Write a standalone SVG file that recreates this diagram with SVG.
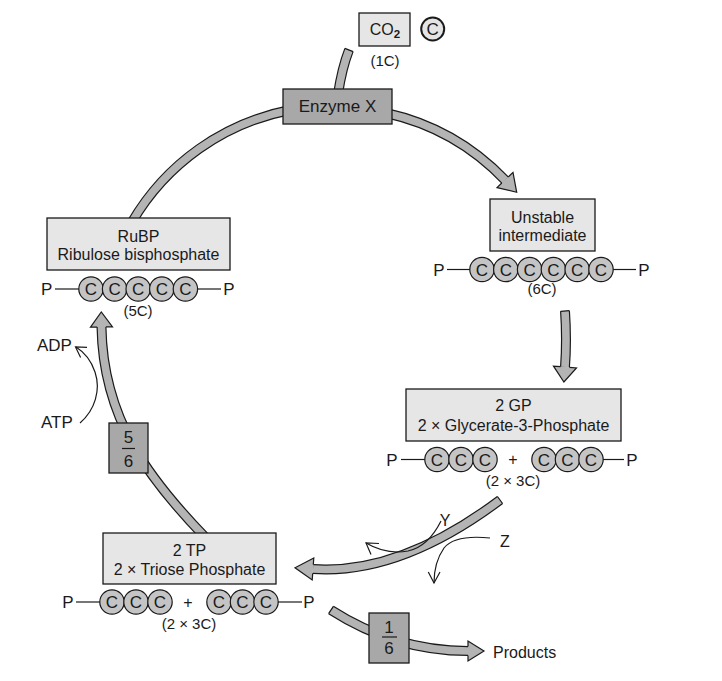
<svg xmlns="http://www.w3.org/2000/svg" width="722" height="681" viewBox="0 0 722 681">
<defs>
<style>
text{font-family:"Liberation Sans",Arial,sans-serif;fill:#1a1a1a}
.f16{font-size:16px}
.f17{font-size:17px}
.f15{font-size:15px}
.m{text-anchor:middle}
.bo{fill:none;stroke:#1a1a1a;stroke-width:10}
.bi{fill:none;stroke:#b4b4b4;stroke-width:7.6}
.hd{fill:#b4b4b4;stroke:#1a1a1a;stroke-width:1.2;stroke-linejoin:miter}
.cap{stroke:#1a1a1a;stroke-width:1.2}
.thin{fill:none;stroke:#1a1a1a;stroke-width:1.2}
.lbox{fill:#e6e6e6;stroke:#1a1a1a;stroke-width:1.3}
.dbox{fill:#a8a8a8;stroke:#1a1a1a;stroke-width:1.3}
.cc{fill:#c4c4c4;stroke:#1a1a1a;stroke-width:1.2}
.ln{stroke:#1a1a1a;stroke-width:1.2}
</style>
<g id="cC"><circle class="cc" r="12.2"/><text class="f17 m" y="6">C</text></g>
</defs>
<rect width="722" height="681" fill="#ffffff"/>
<g id="connectors">
  <path class="bo" d="M 349 50 Q 342 68 338 94"/>
  <path class="bi" d="M 349 50 Q 342 68 338 94"/>
  <line class="cap" x1="353.1" y1="51.6" x2="344.9" y2="48.4"/>
  <path class="bo" d="M 290 110 A 235 235 0 0 0 132 222"/>
  <path class="bi" d="M 290 110 A 235 235 0 0 0 132 222"/>
  <path class="bo" d="M 386 113 A 235 235 0 0 1 505 180"/>
  <path class="bi" d="M 386 113 A 235 235 0 0 1 505 180"/>
  <path class="hd" d="M 501.8 183 L 497 187.6 L 516.7 192.3 L 513 172.4 L 508.2 177"/>
  <path class="bo" d="M 565 311 Q 567 340 565 367"/>
  <path class="bi" d="M 565 311 Q 567 340 565 367"/>
  <line class="cap" x1="569.4" y1="310.7" x2="560.6" y2="311.3"/>
  <path class="hd" d="M 560.6 366.7 L 553.5 366.1 L 563.9 382 L 576.5 367.9 L 569.4 367.3"/>
  <path class="bo" d="M 500 500 Q 400 575 313 569"/>
  <path class="bi" d="M 500 500 Q 400 575 313 569"/>
  <line class="cap" x1="502.6" y1="503.5" x2="497.4" y2="496.5"/>
  <path class="hd" d="M 313.3 564.6 L 313.8 558 L 295 567.8 L 312.2 580 L 312.7 573.4"/>
  <path class="bo" d="M 331 610 Q 395 651 468 651"/>
  <path class="bi" d="M 331 610 Q 395 651 468 651"/>
  <line class="cap" x1="328.6" y1="613.7" x2="333.4" y2="606.3"/>
  <path class="hd" d="M 468 646.6 L 468 641 L 484 651 L 468 661 L 468 655.4"/>
  <path class="bo" d="M 205 537 C 150 480 103 420 101.5 327"/>
  <path class="bi" d="M 205 537 C 150 480 103 420 101.5 327"/>
  <path class="hd" d="M 97.1 327.1 L 90.5 327.2 L 101.3 312 L 112.5 326.8 L 105.9 326.9"/>
  <path class="thin" d="M 441 521 C 433 537 422 548 408 551 C 392 554 378 550 366 543"/>
  <polyline class="thin" points="379,543.5 366,543 371,554.5"/>
  <path class="thin" d="M 490 538 C 470 536 452 538 444 548 C 437 558 434 570 434 583"/>
  <polyline class="thin" points="428.3,572 434,583 440,572"/>
  <path class="thin" d="M 80 423 C 95 410 101 390 95 372 C 91 360 84 352 76 347"/>
  <polyline class="thin" points="87,347.4 75.5,347 80.6,357.6"/>
</g>
<g id="nodes">
  <g id="co2">
    <rect class="lbox" x="359" y="13" width="51" height="33"/>
    <text class="f16 m" x="385" y="35">CO<tspan font-size="11.5" font-weight="bold" dy="3">2</tspan></text>
    <text class="f15 m" x="385" y="66">(1C)</text>
  </g>
  <g id="carbon">
    <circle cx="432.7" cy="29" r="11.5" fill="#e4e4e4" stroke="#1a1a1a" stroke-width="2"/>
    <text class="f17 m" x="432.7" y="35">C</text>
  </g>
  <g id="enzyme">
    <rect class="dbox" x="283" y="89" width="109" height="35"/>
    <text class="f17 m" x="337.5" y="112">Enzyme X</text>
  </g>
  <g id="rubp">
    <rect class="lbox" x="47" y="218" width="183" height="52"/>
    <text class="f16 m" x="138.5" y="242">RuBP</text>
    <text class="f16 m" x="138.5" y="260">Ribulose bisphosphate</text>
    <text class="f17 m" x="46.7" y="295">P</text>
    <line class="ln" x1="55" y1="289" x2="79" y2="289"/>
    <line class="ln" x1="197" y1="289" x2="221" y2="289"/>
    <use href="#cC" x="91" y="289"/>
    <use href="#cC" x="114.6" y="289"/>
    <use href="#cC" x="138.2" y="289"/>
    <use href="#cC" x="161.8" y="289"/>
    <use href="#cC" x="185.4" y="289"/>
    <text class="f17 m" x="229" y="295">P</text>
    <text class="f15 m" x="138" y="316">(5C)</text>
  </g>
  <g id="unstable">
    <rect class="lbox" x="490" y="199" width="105" height="52"/>
    <text class="f16 m" x="542.5" y="223">Unstable</text>
    <text class="f16 m" x="542.5" y="241">intermediate</text>
    <text class="f17 m" x="439" y="275.5">P</text>
    <line class="ln" x1="447" y1="269.5" x2="470" y2="269.5"/>
    <line class="ln" x1="613" y1="269.5" x2="636" y2="269.5"/>
    <use href="#cC" x="482" y="269.5"/>
    <use href="#cC" x="505.8" y="269.5"/>
    <use href="#cC" x="529.6" y="269.5"/>
    <use href="#cC" x="553.4" y="269.5"/>
    <use href="#cC" x="577.2" y="269.5"/>
    <use href="#cC" x="601" y="269.5"/>
    <text class="f17 m" x="644" y="275.5">P</text>
    <text class="f15 m" x="542" y="294">(6C)</text>
  </g>
  <g id="gp">
    <rect class="lbox" x="406" y="389" width="215" height="52"/>
    <text class="f16 m" x="513.5" y="411">2 GP</text>
    <text class="f16 m" x="513.5" y="431">2 × Glycerate-3-Phosphate</text>
    <text class="f17 m" x="392" y="465.5">P</text>
    <line class="ln" x1="401" y1="459.5" x2="425" y2="459.5"/>
    <use href="#cC" x="437" y="459.5"/>
    <use href="#cC" x="461" y="459.5"/>
    <use href="#cC" x="485" y="459.5"/>
    <text class="f16 m" x="513" y="465">+</text>
    <use href="#cC" x="544" y="459.5"/>
    <use href="#cC" x="567.5" y="459.5"/>
    <use href="#cC" x="591" y="459.5"/>
    <line class="ln" x1="603" y1="459.5" x2="624" y2="459.5"/>
    <text class="f17 m" x="632" y="465.5">P</text>
    <text class="f15 m" x="513" y="486">(2 × 3C)</text>
  </g>
  <g id="tp">
    <rect class="lbox" x="103" y="533" width="173" height="51"/>
    <text class="f16 m" x="189.5" y="556">2 TP</text>
    <text class="f16 m" x="189.5" y="575">2 × Triose Phosphate</text>
    <text class="f17 m" x="68" y="608">P</text>
    <line class="ln" x1="76" y1="602" x2="100" y2="602"/>
    <use href="#cC" x="112" y="602"/>
    <use href="#cC" x="136" y="602"/>
    <use href="#cC" x="160" y="602"/>
    <text class="f16 m" x="188" y="607.5">+</text>
    <use href="#cC" x="219" y="602"/>
    <use href="#cC" x="242.5" y="602"/>
    <use href="#cC" x="266" y="602"/>
    <line class="ln" x1="278" y1="602" x2="302" y2="602"/>
    <text class="f17 m" x="309" y="608">P</text>
    <text class="f15 m" x="189" y="629">(2 × 3C)</text>
  </g>
  <g id="frac56">
    <rect class="dbox" x="109" y="423" width="39" height="50"/>
    <text class="f17 m" x="128.5" y="443">5</text>
    <line class="ln" x1="122" y1="448.5" x2="135" y2="448.5"/>
    <text class="f17 m" x="128.5" y="466.5">6</text>
  </g>
  <g id="frac16">
    <rect class="dbox" x="369" y="613" width="40" height="50"/>
    <text class="f17 m" x="389" y="633">1</text>
    <line class="ln" x1="382" y1="637" x2="397" y2="637"/>
    <text class="f17 m" x="389" y="653.5">6</text>
  </g>
  <g id="labels">
    <text class="f16" x="493" y="658">Products</text>
    <text class="f17" x="37" y="351">ADP</text>
    <text class="f17" x="41" y="428">ATP</text>
    <text class="f16 m" x="445" y="526">Y</text>
    <text class="f16 m" x="505" y="547">Z</text>
  </g>
</g>
</svg>
